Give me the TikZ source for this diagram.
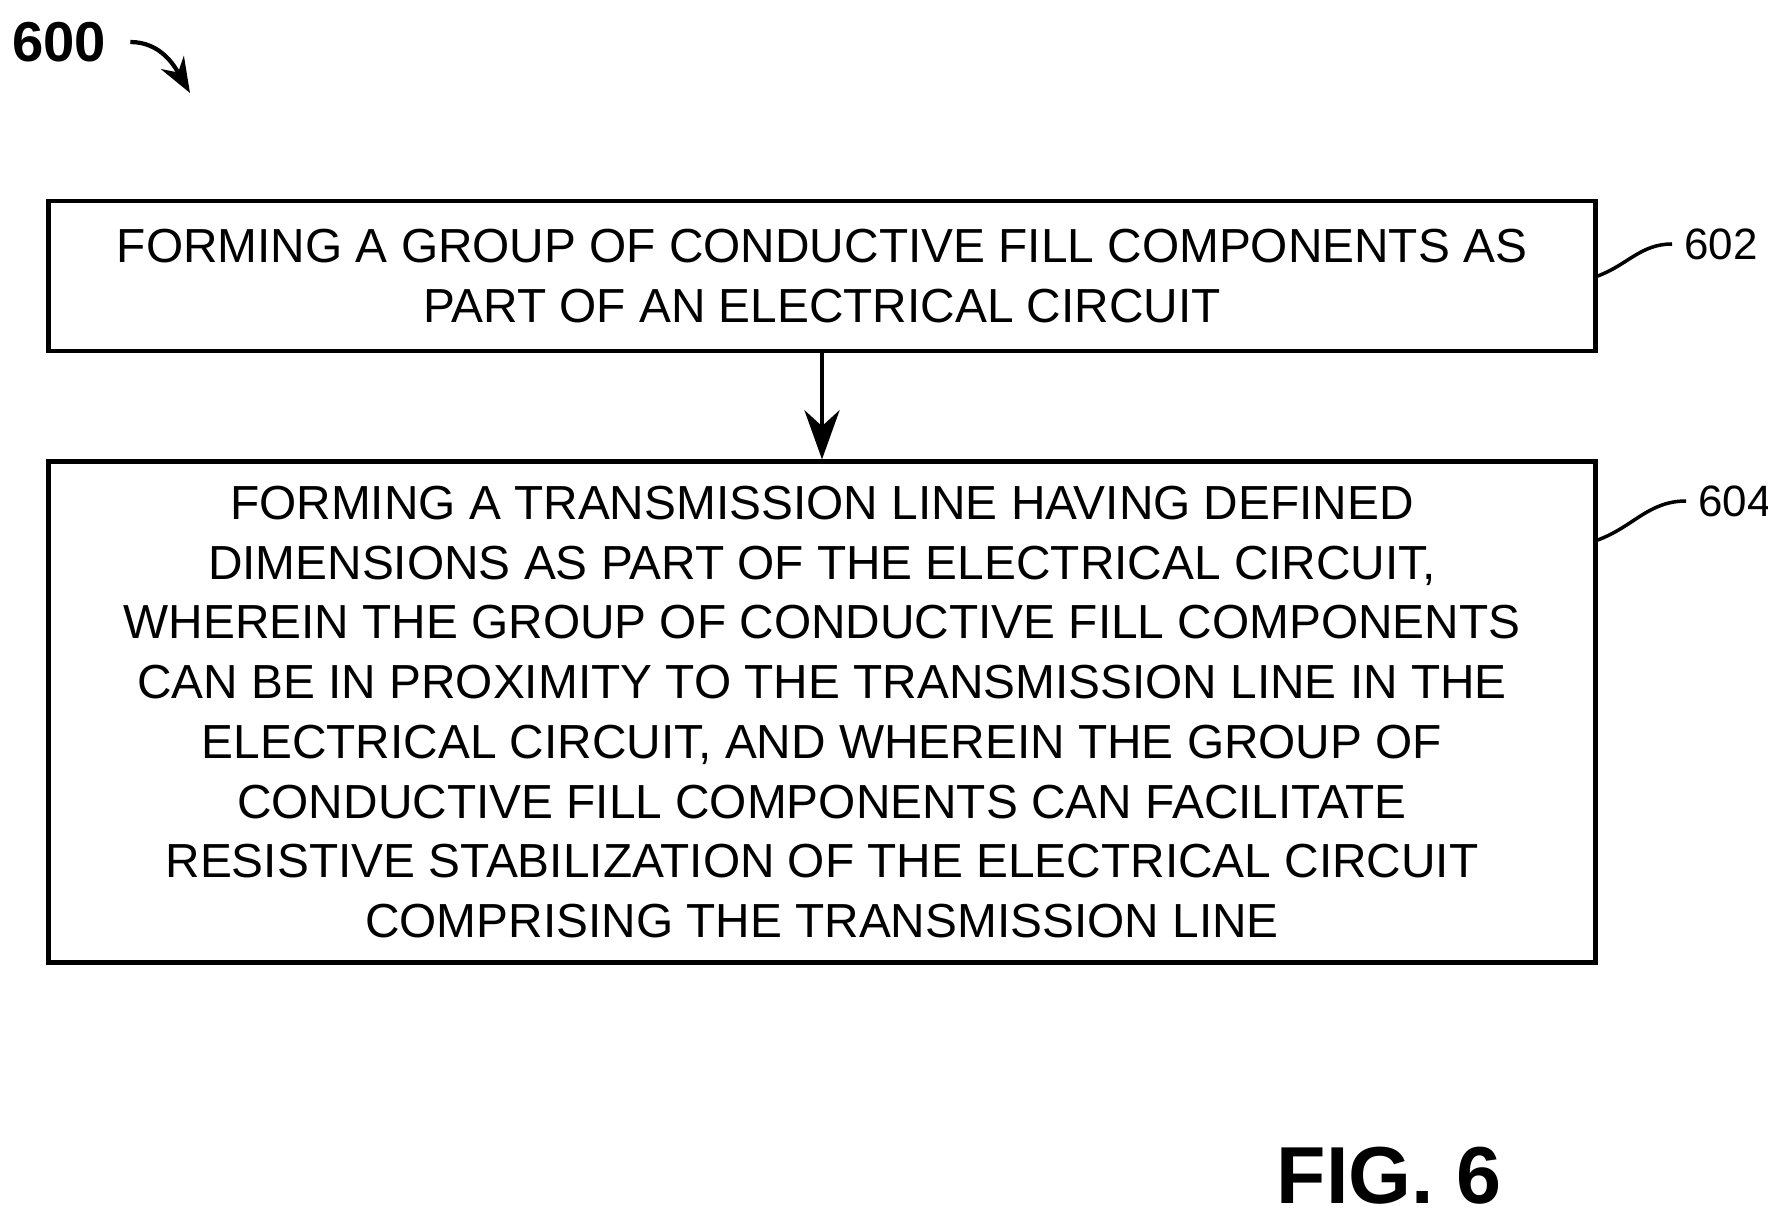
\documentclass[tikz,border=0pt]{standalone}
\usepackage{fontspec}
\setmainfont{Liberation Sans}
\usetikzlibrary{arrows.meta}
\begin{document}
\begin{tikzpicture}[x=0.1mm,y=-0.1mm,
  box/.style={draw,line width=1.2pt,inner sep=0pt,align=center,font=\fontsize{13.6}{17}\selectfont},
  lbl/.style={font=\fontsize{12.5}{15}\selectfont}]
\useasboundingbox (0,0) rectangle (1768,1220);
\node (n600) at (59,42) {\fontsize{16}{20}\selectfont\bfseries 600};
\coordinate (a600) at (190,93);
\draw[-{Stealth[length=10pt]},line width=1.2pt] (n600.east) ++(12,0) to[out=0,in=120] (a600);
\node[box,minimum width=154.7mm,minimum height=15mm] (b1) at (822,276) {FORMING A GROUP OF CONDUCTIVE FILL COMPONENTS AS\\PART OF AN ELECTRICAL CIRCUIT};
\node[box,minimum width=154.7mm,minimum height=50.1mm] (b2) at (822,712) {FORMING A TRANSMISSION LINE HAVING DEFINED\\DIMENSIONS AS PART OF THE ELECTRICAL CIRCUIT,\\WHEREIN THE GROUP OF CONDUCTIVE FILL COMPONENTS\\CAN BE IN PROXIMITY TO THE TRANSMISSION LINE IN THE\\ELECTRICAL CIRCUIT, AND WHEREIN THE GROUP OF\\CONDUCTIVE FILL COMPONENTS CAN FACILITATE\\RESISTIVE STABILIZATION OF THE ELECTRICAL CIRCUIT\\COMPRISING THE TRANSMISSION LINE};
\draw[-{Stealth[length=14pt,width=10pt]},line width=1.2pt] (b1) -- (b2);
\node[lbl,anchor=west] (l602) at (1672,244) {602};
\node[lbl,anchor=west] (l604) at (1686,501) {604};
\draw[line width=1pt] (b1.east) ++(0,0) to[out=20,in=180] (l602.west);
\draw[line width=1pt] (b2.east|-0,540) to[out=20,in=180] (l604.west);
\node (fig) at (1389,1176) {\fontsize{23}{28}\selectfont\bfseries FIG. 6};
\end{tikzpicture}
\end{document}
